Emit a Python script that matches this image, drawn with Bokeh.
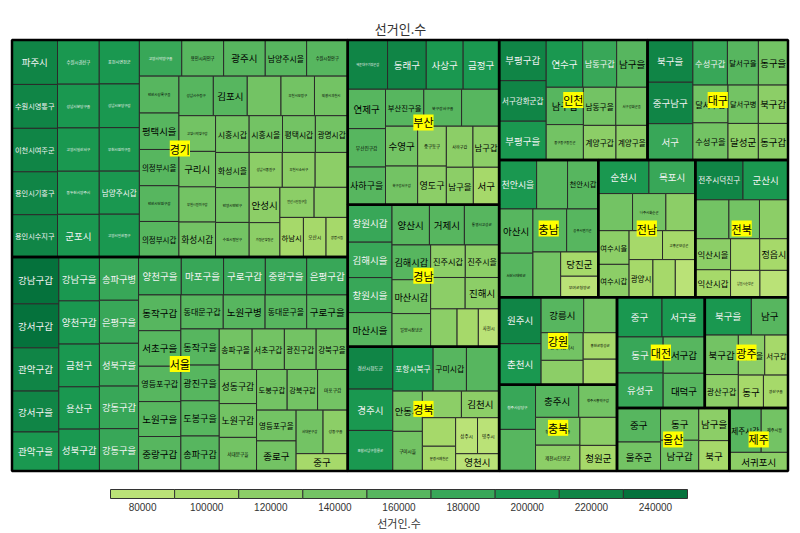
from bokeh.plotting import figure
from bokeh.models import Range1d, ColumnDataSource, LabelSet
from bokeh.core.properties import value
from bokeh.embed import file_html
from bokeh.resources import INLINE

# ---- data: registered voters (선거인 수) per constituency, grouped by province ----
regions = ["경기", "서울", "부산", "경남", "경북", "인천", "대구", "충남",
           "전남", "전북", "강원", "충북", "대전", "광주", "울산", "제주"]

gyeonggi_names = ["파주시", "수원시영통구", "이천시여주군", "용인시기흥구", "용인시수지구",
                  "수원시권선구", "성남시분당구을", "고양시일산서구", "동두천시양주시", "군포시",
                  "포천시연천군", "성남시분당구갑", "부천시원미구을", "남양주시갑", "고양시일산동구",
                  "고양시덕양구을", "용인시처인구", "광주시", "남양주시을", "수원시장안구",
                  "안산시상록구을", "평택시을", "의정부시을", "안산시단원구갑", "의정부시갑",
                  "성남시수정구", "김포시", "안양시동안구갑", "부천시오정구", "의왕시과천시",
                  "고양시덕양구갑", "구리시", "부천시원미구갑", "화성시갑", "시흥시갑",
                  "시흥시을", "평택시갑", "광명시갑", "화성시을", "안양시만안구",
                  "수원시팔달구", "성남시중원구", "부천시소사구", "안산시상록구갑", "안성시",
                  "가평군양평군", "안산시단원구을", "안양시동안구을", "하남시", "오산시", "광명시을"]
gyeonggi_voters = [226000, 223000, 221000, 218000, 215000,
                   206000, 204000, 202000, 201000, 199000,
                   197000, 196000, 195000, 193000, 192000,
                   171000, 169000, 168000, 167000, 166000,
                   163000, 161000, 160000, 158000, 157000,
                   152000, 150000, 149000, 148000, 147000,
                   146000, 145000, 144000, 143000, 138000,
                   137000, 135000, 133000, 132000, 131000,
                   130000, 129000, 128000, 127000, 121000,
                   118000, 115000, 113000, 104000, 100000, 96000]

seoul_names = ["강남구갑", "강서구갑", "관악구갑", "강서구을", "관악구을",
               "강남구을", "양천구갑", "금천구", "용산구", "성북구갑",
               "송파구병", "은평구을", "성북구을", "강동구갑", "강동구을",
               "양천구을", "마포구을", "구로구갑", "중랑구을", "은평구갑",
               "동작구갑", "서초구을", "영등포구갑", "노원구을", "중랑구갑",
               "동대문구갑", "노원구병", "동대문구을", "구로구을", "동작구을",
               "광진구을", "도봉구을", "송파구갑", "송파구을",
               "서초구갑", "광진구갑", "강북구을", "성동구갑",
               "노원구갑", "서대문구을", "도봉구갑",
               "강북구갑", "마포구갑", "영등포구을",
               "종로구", "서대문구갑", "성동구을", "중구"]
seoul_voters = [245000, 230000, 226000, 214000, 204000,
                199000, 196000, 194000, 192000, 190000,
                189000, 188000, 187000, 186000, 185000,
                181000, 179000, 177000, 175000, 174000,
                169000, 168000, 167000, 165000, 163000,
                161000, 159000, 158000, 156000, 155000,
                153000, 151000, 150000, 149000,
                146000, 144000, 143000, 142000,
                141000, 140000, 139000,
                138000, 137000, 136000,
                133000, 131000, 120000, 100000]

busan_names = ["해운대구기장군갑", "동래구", "사상구", "금정구", "연제구", "부산진구갑",
               "사하구을", "부산진구을", "북구강서구을", "해운대구기장군을", "수영구",
               "북구강서구갑", "중구동구", "영도구", "사하구갑", "남구갑", "남구을", "서구"]
busan_voters = [219000, 213000, 203000, 198000, 166000, 162000,
                159000, 158000, 156000, 155000, 143000,
                139000, 128000, 124000, 122000, 120000, 113000, 108000]

gyeongnam_names = ["창원시갑", "김해시을", "창원시을", "마산시을", "양산시", "거제시",
                   "통영시고성군", "김해시갑", "마산시갑", "밀양시창녕군", "진주시갑",
                   "진주시을", "산청군함양군거창군", "진해시", "의령군함안군합천군",
                   "남해군하동군", "사천시"]
gyeongnam_voters = [185000, 175000, 173000, 169000, 168000, 157000,
                    156000, 150000, 146000, 143000, 126000,
                    123000, 121000, 119000, 112000,
                    90000, 88000]

gyeongbuk_names = ["경산시청도군", "경주시", "포항시남구울릉군", "포항시북구", "구미시갑",
                   "고령군성주군칠곡군", "안동시", "구미시을", "영양군영덕군봉화군울진군",
                   "김천시", "군위군의성군청송군", "문경시예천군", "상주시", "영주시", "영천시"]
gyeongbuk_voters = [213000, 208000, 204000, 200000, 165000,
                    162000, 133000, 131000, 116000,
                    112000, 106000, 92000, 88000, 87000, 84000]

incheon_names = ["부평구갑", "서구강화군갑", "부평구을", "연수구", "남동구갑", "남구을",
                 "남구갑", "중구동구옹진군", "남동구을", "서구강화군을", "계양구갑", "계양구을"]
incheon_voters = [214000, 213000, 204000, 193000, 179000, 163000,
                  155000, 147000, 138000, 135000, 126000, 122000]

daegu_names = ["북구을", "중구남구", "서구", "수성구갑", "달서구을", "동구을",
               "달서구갑", "수성구을", "달서구병", "북구갑", "달성군", "동구갑"]
daegu_voters = [214000, 210000, 184000, 174000, 156000, 149000,
                148000, 146000, 130000, 127000, 124000, 121000]

chungnam_names = ["천안시을", "논산시계룡시금산군", "천안시갑", "아산시", "서산시태안군",
                  "홍성군예산군", "공주시연기군", "보령시서천군", "당진군", "부여군청양군"]
chungnam_voters = [205000, 169000, 168000, 167000, 166000,
                   162000, 152000, 140000, 102000, 88000]

jeonnam_names = ["순천시", "목포시", "장흥군강진군영암군", "나주시화순군", "해남군완도군진도군",
                 "여수시을", "여수시갑", "영광군함평군장성군", "고흥군보성군", "광양시",
                 "무안군신안군", "담양군곡성군구례군"]
jeonnam_voters = [190000, 174000, 142000, 138000, 122000,
                  116000, 113000, 108000, 106000, 100000,
                  94000, 84000]

jeonbuk_names = ["전주시덕진구", "군산시", "전주시완산구을", "전주시완산구갑", "김제시완주군",
                 "익산시을", "익산시갑", "고창군부안군", "정읍시", "남원시순창군",
                 "진안군무주군장수군임실군"]
jeonbuk_voters = [212000, 200000, 146000, 133000, 124000,
                  122000, 108000, 103000, 100000, 88000,
                  84000]

gangwon_names = ["원주시", "춘천시", "강릉시", "태백시영월군평창군정선군", "동해시삼척시",
                 "속초시고성군양양군", "홍천군횡성군", "철원군화천군양구군인제군"]
gangwon_voters = [218000, 192000, 169000, 132000, 130000, 114000, 100000, 96000]

chungbuk_names = ["청주시상당구", "증평군진천군괴산군음성군", "충주시", "청주시흥덕구갑",
                  "청주시흥덕구을", "제천시단양군", "보은군옥천군영동군", "청원군"]
chungbuk_voters = [182000, 169000, 158000, 140000, 138000, 128000, 116000, 106000]

daejeon_names = ["중구", "서구을", "동구", "유성구", "서구갑", "대덕구"]
daejeon_voters = [200000, 190000, 186000, 180000, 169000, 161000]

gwangju_names = ["북구을", "남구", "북구갑", "광산구갑", "서구을", "서구갑", "동구", "광산구을"]
gwangju_voters = [197000, 155000, 148000, 125000, 118000, 104000, 92000, 90000]

ulsan_names = ["중구", "울주군", "동구", "남구갑", "남구을", "북구"]
ulsan_voters = [166000, 141000, 138000, 131000, 112000, 104000]

jeju_names = ["제주시갑", "제주시을", "서귀포시"]
jeju_voters = [158000, 133000, 122000]

region_members = [
    (gyeonggi_names, gyeonggi_voters), (seoul_names, seoul_voters),
    (busan_names, busan_voters), (gyeongnam_names, gyeongnam_voters),
    (gyeongbuk_names, gyeongbuk_voters), (incheon_names, incheon_voters),
    (daegu_names, daegu_voters), (chungnam_names, chungnam_voters),
    (jeonnam_names, jeonnam_voters), (jeonbuk_names, jeonbuk_voters),
    (gangwon_names, gangwon_voters), (chungbuk_names, chungbuk_voters),
    (daejeon_names, daejeon_voters), (gwangju_names, gwangju_voters),
    (ulsan_names, ulsan_voters), (jeju_names, jeju_voters),
]

# colour classes for the legend
legend_breaks = [70000, 90000, 110000, 130000, 150000, 170000, 190000, 210000, 230000, 250000]
legend_labels = ["80000", "100000", "120000", "140000", "160000",
                 "180000", "200000", "220000", "240000"]
palette = ["#bae277", "#a6d96a", "#8cce67", "#73c364", "#57b65f",
           "#38a758", "#1a9850", "#108546", "#05723c"]

KR = value("Noto Sans CJK KR")


# ---- squarified treemap layout ----
def worst(row, side):
    s = sum(row)
    return max(max(side * side * r / (s * s), (s * s) / (side * side * r)) for r in row)


def squarify(sizes, x, y, w, h):
    total = float(sum(sizes))
    areas = [s * w * h / total for s in sizes]
    rects = []
    i, n = 0, len(areas)
    while i < n:
        side = min(w, h)
        row = [areas[i]]
        j = i + 1
        while j < n and worst(row + [areas[j]], side) <= worst(row, side):
            row.append(areas[j])
            j += 1
        s = sum(row)
        if w >= h:
            cw = s / h
            yy = y
            for a in row:
                ch = a / cw
                rects.append((x, yy, cw, ch))
                yy += ch
            x += cw
            w -= cw
        else:
            rh = s / w
            xx = x
            for a in row:
                rw = a / rh
                rects.append((xx, y, rw, rh))
                xx += rw
            y += rh
            h -= rh
        i = j
    return rects


def bin_of(v):
    for k in range(len(palette)):
        if v < legend_breaks[k + 1]:
            return max(k, 0)
    return len(palette) - 1


def label_size(name, w, h):
    # full size when the name fits, a much smaller size when it is cramped
    fs = min(9.5, 0.95 * w / len(name))
    if fs < 7.2:
        fs *= 0.65
    fs = min(fs, 0.6 * h)
    return fs if fs >= 3.0 else 0.0


W, H = 800, 533
TX, TY, TW, TH = 11.5, 39.5, 776.0, 431.0

totals = [sum(v) for _, v in region_members]
group_rects = squarify(totals, TX, TY, TW, TH)

cell = dict(left=[], right=[], top=[], bottom=[], color=[])
lab = dict(x=[], y=[], text=[], size=[], tcolor=[])
for (names, voters), (gx, gy, gw, gh) in zip(region_members, group_rects):
    for name, v, (x, y, w, h) in zip(names, voters, squarify(voters, gx, gy, gw, gh)):
        b = bin_of(v)
        cell["left"].append(x)
        cell["right"].append(x + w)
        cell["top"].append(y)
        cell["bottom"].append(y + h)
        cell["color"].append(palette[b])
        fs = label_size(name, w, h)
        if fs > 0:
            lab["x"].append(x + w / 2)
            lab["y"].append(y + h / 2)
            lab["text"].append(name)
            lab["size"].append("%.1fpx" % fs)
            lab["tcolor"].append("#f4f4f4" if b >= 5 else "black")

p = figure(width=W, height=H, x_range=Range1d(0, W), y_range=Range1d(H, 0),
           output_backend="svg", toolbar_location=None, min_border=0,
           x_axis_location=None, y_axis_location=None)
p.grid.visible = False
p.outline_line_color = None
p.background_fill_color = "white"
p.border_fill_color = "white"

# constituency cells
p.quad(left="left", right="right", top="top", bottom="bottom", source=ColumnDataSource(cell),
       fill_color="color", line_color="#2a2a2a", line_width=1)
p.text(x="x", y="y", text="text", source=ColumnDataSource(lab), text_font=KR,
       text_font_size="size", text_color="tcolor", text_align="center",
       text_baseline="middle")

# province outlines and names
gsrc = ColumnDataSource(dict(
    left=[r[0] for r in group_rects], right=[r[0] + r[2] for r in group_rects],
    top=[r[1] for r in group_rects], bottom=[r[1] + r[3] for r in group_rects],
    cx=[r[0] + r[2] / 2 for r in group_rects], cy=[r[1] + r[3] / 2 for r in group_rects],
    name=regions))
p.quad(left="left", right="right", top="top", bottom="bottom", source=gsrc,
       fill_alpha=0, line_color="black", line_width=2.5)
p.add_layout(LabelSet(x="cx", y="cy", text="name", source=gsrc, text_font=KR,
                      text_font_size="11px", text_color="black", text_align="center",
                      text_baseline="middle", background_fill_color="#ffff00"))

# title
p.text(x=[W / 2], y=[28], text=["선거인.수"], text_font=KR, text_font_size="13px",
       text_color="#333333", text_align="center", text_baseline="middle")

# colour legend
LX0, LX1, LY0, LY1 = 110.0, 687.0, 489.0, 498.0
nb = len(palette)
bw = (LX1 - LX0) / nb
leg = ColumnDataSource(dict(
    left=[LX0 + i * bw for i in range(nb)], right=[LX0 + (i + 1) * bw for i in range(nb)],
    color=palette, cx=[LX0 + (i + 0.5) * bw for i in range(nb)], label=legend_labels))
p.quad(left="left", right="right", top=LY0, bottom=LY1, source=leg,
       fill_color="color", line_color="#333333", line_width=1)
p.text(x="cx", y=506, text="label", source=leg, text_font=value("Liberation Sans"),
       text_font_size="10px", text_color="#333333", text_align="center",
       text_baseline="middle")
p.text(x=[(LX0 + LX1) / 2], y=[522], text=["선거인.수"], text_font=KR,
       text_font_size="11px", text_color="#333333", text_align="center",
       text_baseline="middle")

open("out.html", "w").write(file_html(p, INLINE))
